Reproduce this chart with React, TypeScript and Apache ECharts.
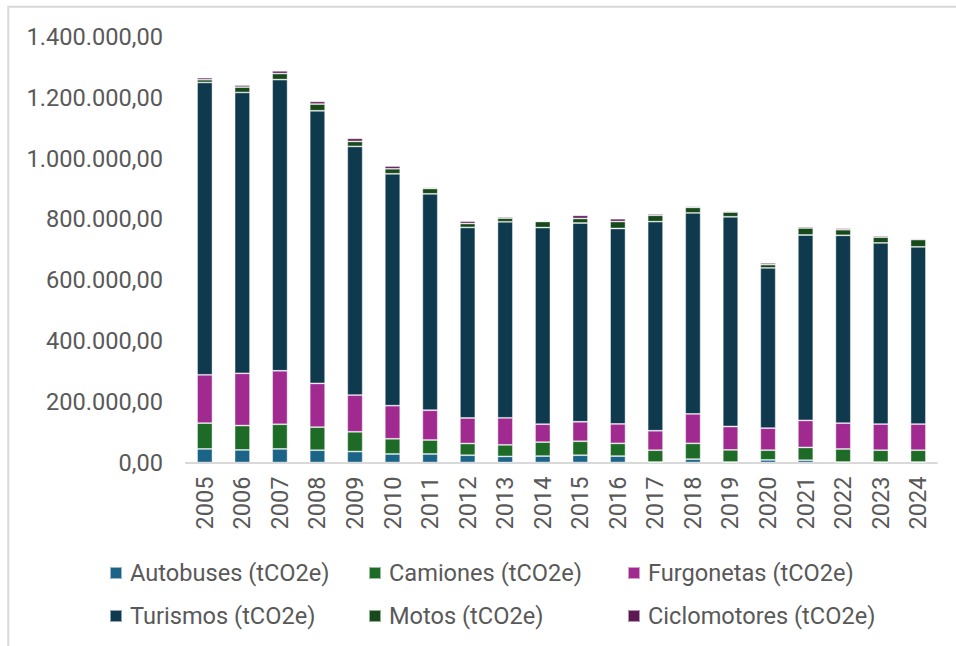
import React, { useEffect, useRef } from "react";
import * as echarts from "echarts";

const years = ["2005","2006","2007","2008","2009","2010","2011","2012","2013","2014","2015","2016","2017","2018","2019","2020","2021","2022","2023","2024"];

const autobuses = [44800, 41500, 44800, 40500, 36000, 28000, 28000, 24000, 20000, 21000, 24000, 21000, 1500, 11000, 1500, 8600, 7600, 1500, 1500, 1500];
const camiones = [84700, 80000, 81000, 75800, 65000, 50000, 46000, 38500, 38000, 46000, 46000, 42000, 39000, 52000, 40000, 32000, 42000, 43000, 39000, 39000];
const furgonetas = [159000, 172000, 176000, 144000, 121000, 109000, 98000, 84000, 89000, 59000, 64000, 64000, 64000, 97000, 77000, 72500, 89000, 85000, 86000, 86000];
const turismos = [962000, 924000, 958000, 897000, 818000, 763000, 712000, 627000, 645000, 647000, 654000, 643000, 688000, 661000, 690000, 527000, 610000, 618000, 596000, 583000];
const motos = [9000, 17600, 20000, 22000, 16500, 16500, 17600, 13000, 12000, 20000, 15000, 23000, 21000, 18500, 15500, 11000, 23000, 18500, 19000, 24000];
const ciclomotores = [6600, 6600, 8800, 8800, 10000, 8800, 3300, 7700, 4400, 2300, 10000, 9000, 4600, 3300, 3300, 5600, 4400, 4600, 4400, 3300];

const seriesNames = [
  "Autobuses (tCO2e)",
  "Camiones (tCO2e)",
  "Furgonetas (tCO2e)",
  "Turismos (tCO2e)",
  "Motos (tCO2e)",
  "Ciclomotores (tCO2e)",
];
const seriesData = [autobuses, camiones, furgonetas, turismos, motos, ciclomotores];
const colors = ["#1b6387", "#1e6b28", "#a12a91", "#0f3a4d", "#174a1b", "#5c1a55"];

const yTicks = { min: 0, max: 1400000, interval: 200000 };

function fmtEs(v: number): string {
  const s = Math.round(v).toString().replace(/\B(?=(\d{3})+(?!\d))/g, ".");
  return s + ",00";
}

export default function App() {
  const ref = useRef<HTMLDivElement>(null);
  useEffect(() => {
    if (!ref.current) return;
    const chart = echarts.init(ref.current, null, { renderer: "svg" });
    const font = "Roboto";
    const textColor = "#595959";
    const fs = 23.6;
    const legendPos = [
      { left: 109, top: 561 },
      { left: 368, top: 561 },
      { left: 627, top: 561 },
      { left: 109, top: 604 },
      { left: 368, top: 604 },
      { left: 627, top: 604 },
    ];
    chart.setOption({
      animation: false,
      backgroundColor: "#ffffff",
      textStyle: { fontFamily: font },
      grid: { left: 186, right: 19, top: 37, bottom: 183.5, containLabel: false },
      legend: seriesNames.map((n, i) => ({
        data: [n],
        left: legendPos[i].left,
        top: legendPos[i].top,
        padding: 0,
        itemWidth: 12,
        itemHeight: 12,
        icon: "rect",
        selectedMode: false,
        textStyle: {
          fontFamily: font,
          fontSize: fs,
          color: textColor,
          lineHeight: 24,
          padding: [0, 0, 0, 3],
        },
      })),
      xAxis: {
        type: "category",
        data: years,
        axisLine: { show: true, lineStyle: { color: "#d9d9d9", width: 2 } },
        axisTick: { show: false },
        axisLabel: {
          rotate: 90,
          margin: 14,
          fontFamily: font,
          fontSize: fs,
          color: textColor,
          interval: 0,
        },
      },
      yAxis: {
        type: "value",
        min: yTicks.min,
        max: yTicks.max,
        interval: yTicks.interval,
        axisLine: { show: false },
        axisTick: { show: false },
        splitLine: { show: false },
        axisLabel: {
          margin: 23,
          fontFamily: font,
          fontSize: fs,
          color: textColor,
          formatter: (v: number) => fmtEs(v),
        },
      },
      series: seriesNames.map((n, i) => ({
        name: n,
        type: "bar",
        stack: "total",
        barWidth: "41%",
        data: seriesData[i],
        itemStyle: {
          color: colors[i],
          borderColor: "rgba(255,255,255,0.55)",
          borderWidth: 0.8,
        },
      })),
      graphic: [
        {
          type: "rect",
          shape: { x: 8.3, y: 6.7, width: 1000, height: 1000 },
          style: { fill: "none", stroke: "#d9d9d9", lineWidth: 2 },
          silent: true,
        },
      ],
    });
    return () => chart.dispose();
  }, []);
  return (
    <div
      ref={ref}
      style={{ position: "fixed", left: 0, top: 0, width: 956, height: 646 }}
    />
  );
}
